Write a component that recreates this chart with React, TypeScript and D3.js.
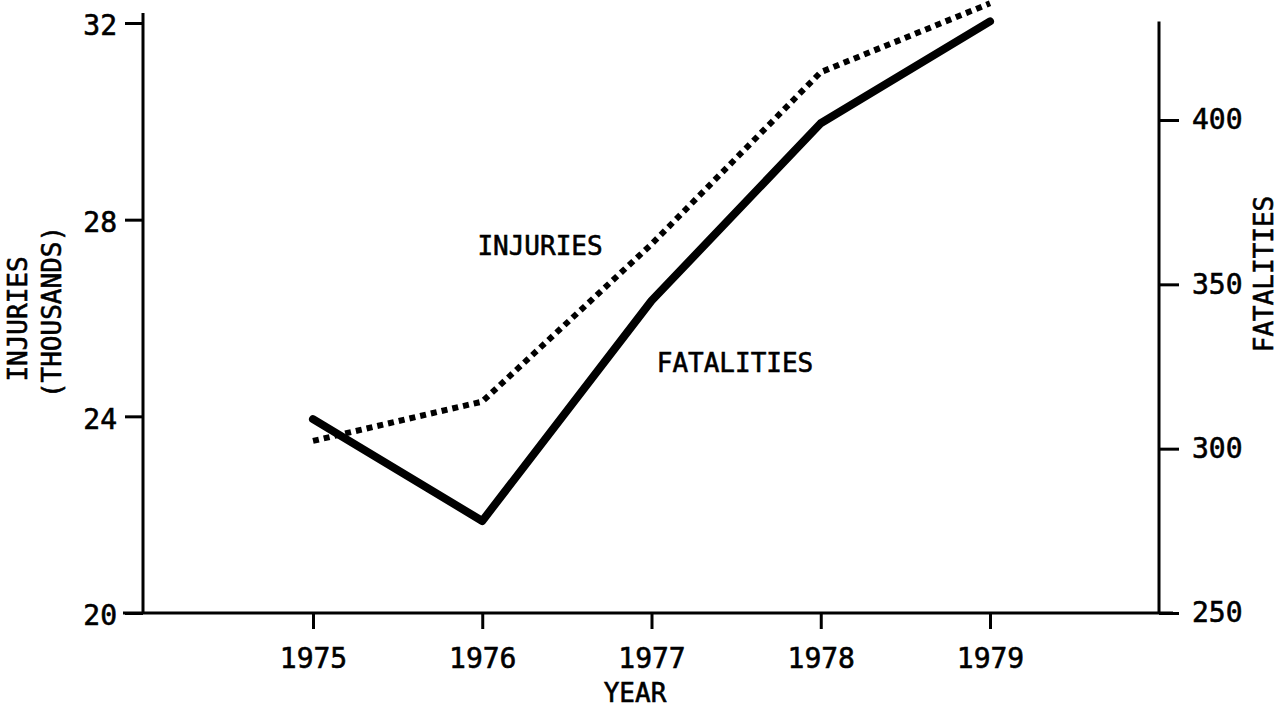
import React, { useEffect, useRef } from 'react';
import * as d3 from 'd3';

const years = [1975, 1976, 1977, 1978, 1979];
const injuries = [23.5, 24.3, 27.5, 31.0, 32.4];
const fatalities = [309, 278, 345, 399, 430];

const injuryTicks = [20, 24, 28, 32];
const fatalityTicks = [250, 300, 350, 400];

const FONT = '"DejaVu Sans Mono", monospace';

const App = () => {
  const ref = useRef<SVGSVGElement>(null);

  useEffect(() => {
    const svg = d3.select(ref.current);
    svg.selectAll('*').remove();

    const left = 143;
    const right = 1159;
    const bottom = 613;

    const x = d3.scaleLinear().domain([1975, 1979]).range([313, 990]);
    const yL = d3.scaleLinear().domain([20, 32]).range([bottom, 23]);
    const yR = d3.scaleLinear().domain([250, 400]).range([bottom, 120]);

    const styleAxis = (g: any, size: number) => {
      g.select('.domain').remove();
      g.selectAll('line').attr('stroke', '#000').attr('stroke-width', 3);
      g.selectAll('text')
        .attr('fill', '#000')
        .attr('stroke', '#000')
        .attr('stroke-width', 0.6)
        .style('font-family', FONT)
        .style('font-size', `${size}px`);
    };

    // left axis
    svg.append('g')
      .attr('transform', `translate(${left},0)`)
      .call(d3.axisLeft(yL).tickValues(injuryTicks).tickSize(18).tickPadding(8).tickFormat(d3.format('d')))
      .call((g: any) => styleAxis(g, 28))
      .call((g: any) => g.selectAll('text').attr('dy', '0.42em'));

    svg.append('line')
      .attr('x1', left).attr('x2', left)
      .attr('y1', 13).attr('y2', bottom)
      .attr('stroke', '#000').attr('stroke-width', 3);

    // right axis
    svg.append('g')
      .attr('transform', `translate(${right},0)`)
      .call(d3.axisRight(yR).tickValues(fatalityTicks).tickSize(20).tickPadding(13).tickFormat(d3.format('d')))
      .call((g: any) => styleAxis(g, 28));

    svg.append('line')
      .attr('x1', right).attr('x2', right)
      .attr('y1', yR(430)).attr('y2', bottom)
      .attr('stroke', '#000').attr('stroke-width', 3);

    // bottom axis
    svg.append('g')
      .attr('transform', `translate(0,${bottom})`)
      .call(d3.axisBottom(x).tickValues(years).tickSize(16).tickPadding(19).tickFormat(d3.format('d')))
      .call((g: any) => styleAxis(g, 28));

    svg.append('line')
      .attr('x1', 123).attr('x2', 1173)
      .attr('y1', bottom).attr('y2', bottom)
      .attr('stroke', '#000').attr('stroke-width', 3);

    // lines
    const injLine = d3.line<number>().x((_, i) => x(years[i])).y(d => yL(d));
    const fatLine = d3.line<number>().x((_, i) => x(years[i])).y(d => yR(d));

    svg.append('path')
      .datum(injuries)
      .attr('d', injLine)
      .attr('fill', 'none')
      .attr('stroke', '#000')
      .attr('stroke-width', 6)
      .attr('stroke-dasharray', '6 5');

    svg.append('path')
      .datum(fatalities)
      .attr('d', fatLine)
      .attr('fill', 'none')
      .attr('stroke', '#000')
      .attr('stroke-width', 8)
      .attr('stroke-linecap', 'round')
      .attr('stroke-linejoin', 'round');

    const label = (txt: string, tx: number, ty: number, rot = 0, size = 26) =>
      svg.append('text')
        .attr('transform', `translate(${tx},${ty}) rotate(${rot})`)
        .attr('text-anchor', 'middle')
        .attr('fill', '#000')
        .attr('stroke', '#000')
        .attr('stroke-width', 0.6)
        .style('font-family', FONT)
        .style('font-size', `${size}px`)
        .text(txt);

    label('INJURIES', 540, 255);
    label('FATALITIES', 735, 372);
    label('YEAR', 635, 702);
    label('INJURIES', 27, 319, -90);
    label('(THOUSANDS)', 61, 312, -90);
    label('FATALITIES', 1273, 274, -90);
  }, []);

  return (
    <svg
      ref={ref}
      width={1285}
      height={711}
      style={{ position: 'absolute', left: 0, top: 0, background: '#fff' }}
    />
  );
};

export default App;
